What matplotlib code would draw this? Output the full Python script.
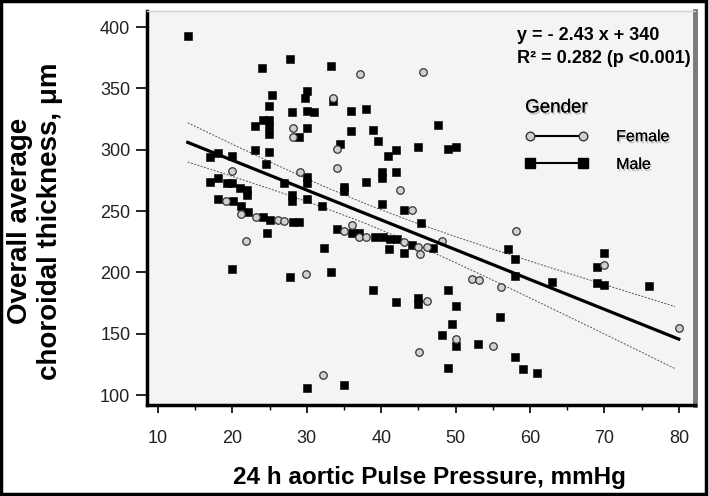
import matplotlib
matplotlib.use("Agg")
import matplotlib.pyplot as plt
import matplotlib.patheffects as pe
from matplotlib.lines import Line2D
from matplotlib.patches import Rectangle

plt.rcParams["font.family"] = ["Liberation Sans", "DejaVu Sans"]

# 24 h aortic pulse pressure (mmHg) vs overall choroidal thickness (um)
female_pp = [28.1, 28.1, 33.5, 34, 34, 37.1, 45.6, 20, 19.2, 21.1, 23.2, 26.1, 27,
             21.8, 29.1, 42.5, 44.2, 36.1, 35, 37, 38, 43, 45, 46.1, 48.2, 45.2,
             29.9, 32.2, 46.1, 50, 55, 45.1, 52.2, 53.1, 56.1, 58.1, 70, 80]
female_ct = [318, 310, 342, 301, 285, 362, 363, 283, 258, 248, 245, 243, 242,
             226, 282, 267, 251, 239, 234, 229, 229, 225, 221, 221, 226, 215,
             199, 116, 177, 146, 140, 135, 195, 194, 188, 234, 206, 155]

male_pp = [14, 24, 27.7, 33.3, 25.3, 30, 29.8, 28, 30, 31, 24.9, 24.1, 24.9, 23,
           24.9, 24.9, 30, 28.9, 33.5, 35.9, 38, 35.9, 38.9, 39.6, 34.5, 47.6, 42,
           40.9, 45, 49, 50, 23, 24.9, 24.5, 17, 18, 20, 40.1, 40.1, 42, 38, 35, 35,
           17, 18, 19.3, 20, 21, 22, 22, 26.9, 28, 28, 30, 30, 30, 32, 18.1, 20.1,
           21.1, 22.1, 24.1, 25, 28.1, 29, 24.7, 32.3, 40.1, 43, 45.3, 34, 36.1, 37,
           39.2, 40.2, 41.2, 42.1, 44.1, 47, 43, 41, 20, 27.7, 33.3, 30, 35, 38.9,
           42, 45, 45, 49, 50, 49.5, 48.2, 50, 53, 49, 58, 57, 58, 56, 63, 69, 70,
           69, 70, 76, 58, 59, 61]
male_ct = [393, 367, 374, 368, 345, 348, 342, 331, 332, 331, 336, 324, 324, 319,
           319, 313, 318, 310, 340, 332, 333, 315, 316, 307, 305, 320, 300,
           295, 302, 301, 302, 300, 298, 288, 294, 297, 295, 282, 277, 282, 274, 270, 266,
           274, 277, 273, 273, 269, 267, 263, 273, 263, 258, 278, 273, 260, 254, 260, 258,
           254, 249, 245, 243, 241, 241, 232, 220, 256, 251, 240, 235, 232, 232,
           229, 229, 227, 227, 222, 220, 216, 219, 203, 196, 200, 106, 108, 186,
           176, 179, 174, 186, 173, 158, 149, 140, 142, 122, 211, 219, 197, 164, 192, 204, 216,
           191, 190, 189, 131, 121, 118]

# fitted line y = -2.43x + 340 and its confidence band
fit_pp = [14, 80]
fit_ct = [306, 145.6]
band_pp = [14, 20, 26, 32, 38, 44, 50, 56, 62, 68, 74, 79.5]
band_hi = [322, 304.5, 287.4, 270.9, 255.7, 241.8, 229.1, 217, 205.3, 193.9, 182.5, 172.1]
band_lo = [290, 278.3, 266.2, 253.5, 239.7, 224.4, 207.9, 190.8, 173.3, 155.7, 137.9, 121.5]

fig = plt.figure(figsize=(7.09, 4.96), dpi=100)
fig.patch.set_facecolor("white")
ax = fig.add_axes([0.2073, 0.1835, 0.773, 0.794])
ax.set_facecolor("#f4f4f4")

ax.plot(band_pp, band_hi, color="#555555", lw=0.7, ls=(0, (2, 1.5)), zorder=2)
ax.plot(band_pp, band_lo, color="#555555", lw=0.7, ls=(0, (2, 1.5)), zorder=2)
ax.plot(male_pp, male_ct, "s", ms=5.9, mew=0.4, color="black", zorder=3)
ax.plot(female_pp, female_ct, "o", ms=5.4, mfc="#d0d0d0", mec="#333333", mew=0.9, zorder=4)
ax.plot(fit_pp, fit_ct, color="black", lw=2.3, zorder=5)

ax.set_xlim(8.52, 82.18)
ax.set_ylim(91.9, 413)
ax.set_xticks(range(10, 81, 10))
ax.set_xticks(range(15, 80, 10), minor=True)
ax.set_yticks(range(100, 401, 50))
ax.tick_params(axis="y", direction="out", length=8, width=1.2, pad=4,
               labelsize=13, labelcolor="#222222")
ax.tick_params(axis="x", which="major", direction="out", length=6, width=1.2, pad=12,
               labelsize=13, labelcolor="#222222")
ax.tick_params(axis="x", which="minor", direction="out", length=3.5, width=1)

for side in ["left", "bottom"]:
    ax.spines[side].set_linewidth(2.5)
    ax.spines[side].set_color("black")
ax.spines["right"].set_linewidth(3.5)
ax.spines["right"].set_color("#7a7a7a")
ax.spines["top"].set_linewidth(1)
ax.spines["top"].set_color("#d0d0d0")

ax.set_xlabel("24 h aortic Pulse Pressure, mmHg", fontsize=17.5, fontweight="bold", va="center")
ax.xaxis.set_label_coords(0.516, -0.183)
ax.set_ylabel("Overall average\nchoroidal thickness, μm", fontsize=20, fontweight="bold",
              va="center", linespacing=1.2)
ax.yaxis.set_label_coords(-0.204, 0.467)

ax.text(0.675, 0.939, "y = - 2.43 x + 340", transform=ax.transAxes, fontsize=13,
        fontweight="bold", ha="left", va="center")
ax.text(0.675, 0.881, "R² = 0.282 (p <0.001)", transform=ax.transAxes, fontsize=13,
        fontweight="bold", ha="left", va="center")

shadow = [pe.withSimplePatchShadow(offset=(1, -1.5), shadow_rgbFace="#888888", alpha=0.5), pe.Normal()]
handles = [Line2D([], [], color="black", lw=1.5, marker="o", ms=6.2, mfc="#d0d0d0", mec="#333333"),
           Line2D([], [], color="black", lw=1.5, marker="s", ms=6.5, mfc="black", mec="black")]
leg = ax.legend(handles, ["Female", "Male"], title="Gender", loc="upper left",
                bbox_to_anchor=(0.69, 0.776), frameon=False, fontsize=11.5,
                title_fontsize=13.5, numpoints=2, handlelength=3.9, handletextpad=1.8,
                labelspacing=0.8, borderpad=0, borderaxespad=0, alignment="left")
leg.get_title().set_path_effects(shadow)
for t in leg.get_texts():
    t.set_path_effects(shadow)

fig.add_artist(Rectangle((0.002, 0.004), 0.994, 0.994, transform=fig.transFigure,
                         fill=False, lw=2.5, ec="black"))

fig.savefig("out.png", dpi=100)
